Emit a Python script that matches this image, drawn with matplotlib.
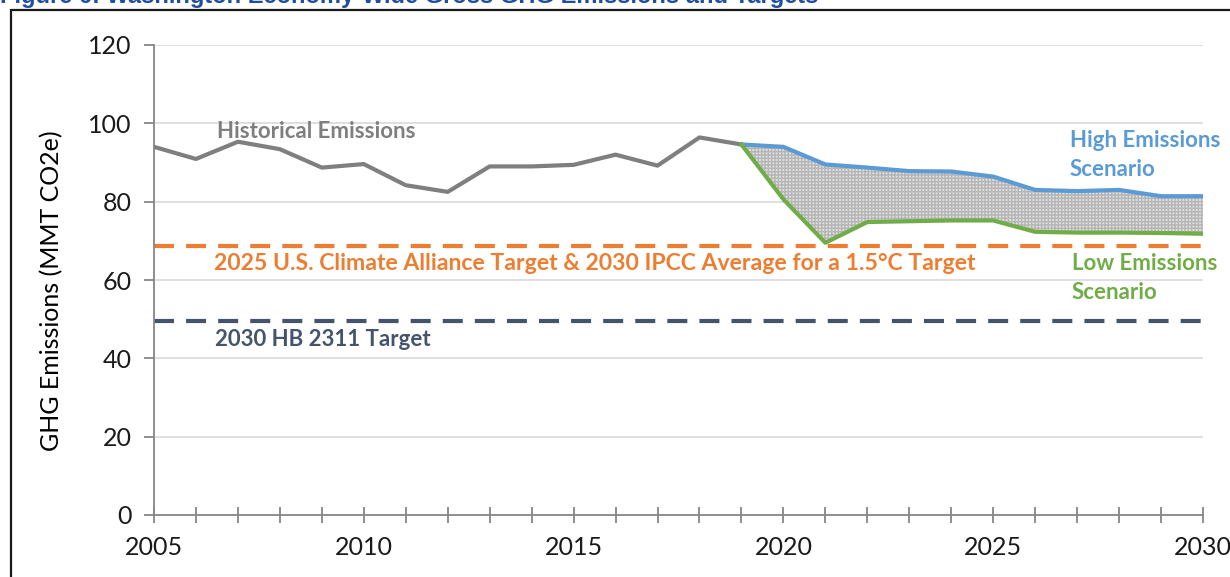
import matplotlib
matplotlib.use("Agg")
import matplotlib.pyplot as plt
from matplotlib.patches import Rectangle

# ---- data ----
hist_years = list(range(2005, 2020))
hist_vals = [94.0, 90.9, 95.3, 93.4, 88.7, 89.6, 84.2, 82.5, 89.0, 89.0, 89.4, 92.0, 89.2, 96.4, 94.6]
scen_years = list(range(2019, 2031))
high_vals = [94.6, 94.0, 89.5, 88.7, 87.8, 87.7, 86.4, 83.0, 82.7, 83.0, 81.4, 81.4]
low_vals = [94.6, 80.6, 69.5, 74.8, 75.0, 75.2, 75.2, 72.3, 72.1, 72.1, 72.0, 71.8]
alliance_target = 68.8
hb2311_target = 49.5
x_ticks_major = [2005, 2010, 2015, 2020, 2025, 2030]
y_ticks = [0, 20, 40, 60, 80, 100, 120]

title = "Figure 6: Washington Economy-Wide Gross GHG Emissions and Targets"
ylabel = "GHG Emissions (MMT CO2e)"

FONT = "Lato"
plt.rcParams["font.family"] = [FONT, "DejaVu Sans"]

fig = plt.figure(figsize=(12.30, 5.77), dpi=100)
ax = fig.add_axes([154/1230, 1-515/577, (1203-154)/1230, (515-45)/577])

# border box (partially cut)
fig.patches.append(Rectangle((11/1230, -0.1), 1.2, 1-10/577+0.1, transform=fig.transFigure,
                             fill=False, edgecolor="#1a1a1a", linewidth=1.6, zorder=0))
fig.text(0.0, 1+4/577, title, color="#1F4E9F", fontsize=17, fontweight="bold",
         family="Liberation Sans", ha="left", va="center")

ax.set_xlim(2005, 2030)
ax.set_ylim(0, 120)

# grid
for y in y_ticks[1:]:
    ax.axhline(y, color="#d9d9d9", linewidth=1.2, zorder=0)

ax.fill_between(scen_years, low_vals, high_vals, facecolor="#e0e0e0", edgecolor="#b5b5b5",
                hatch="+++++", linewidth=0, zorder=1)
ax.plot(hist_years, hist_vals, color="#7f7f7f", linewidth=3, zorder=3)
ax.plot(scen_years, high_vals, color="#5B9BD5", linewidth=3, zorder=3)
ax.plot(scen_years, low_vals, color="#70AD47", linewidth=3, zorder=3)
ax.axhline(alliance_target, color="#ED7D31", linewidth=3, dashes=(4.8, 2.9), zorder=2)
ax.axhline(hb2311_target, color="#44546A", linewidth=3, dashes=(4.8, 2.9), zorder=2)

# labels
FS = 16
ax.text(2006.5, 98.0, "Historical Emissions", color="#7f7f7f", fontsize=FS, fontweight="bold",
        ha="left", va="center")
ax.text(2026.82, 95.5, "High Emissions", color="#5B9BD5", fontsize=FS, fontweight="bold",
        ha="left", va="center")
ax.text(2026.82, 88.3, "Scenario", color="#5B9BD5", fontsize=FS, fontweight="bold",
        ha="left", va="center")
ax.text(2026.87, 64.1, "Low Emissions", color="#70AD47", fontsize=FS, fontweight="bold",
        ha="left", va="center")
ax.text(2026.87, 56.7, "Scenario", color="#70AD47", fontsize=FS, fontweight="bold",
        ha="left", va="center")
ax.text(2006.42, 64.2, "2025 U.S. Climate Alliance Target & 2030 IPCC Average for a 1.5°C Target",
        color="#ED7D31", fontsize=16.6, fontweight="bold", ha="left", va="center")
ax.text(2006.45, 44.7, "2030 HB 2311 Target", color="#44546A", fontsize=FS, fontweight="bold",
        ha="left", va="center")

# axes styling
for s in ["top", "right"]:
    ax.spines[s].set_visible(False)
for s in ["left", "bottom"]:
    ax.spines[s].set_color("#868686")
    ax.spines[s].set_linewidth(1.3)
ax.set_xticks(list(range(2005, 2031)))
ax.set_xticklabels([str(y) if y in x_ticks_major else "" for y in range(2005, 2031)])
ax.set_yticks(y_ticks)
ax.tick_params(axis="x", direction="inout", length=12, width=1.3, color="#868686",
               labelsize=18, pad=9)
ax.tick_params(axis="y", direction="out", length=7, width=1.3, color="#868686",
               labelsize=18, pad=9)
ax.set_ylabel(ylabel, fontsize=18)
ax.yaxis.set_label_coords(-(154-63)/(1203-154), (515-291)/470)
for lab in ax.get_xticklabels() + ax.get_yticklabels():
    lab.set_color("#1a1a1a")

fig.savefig("out.png", dpi=100)
